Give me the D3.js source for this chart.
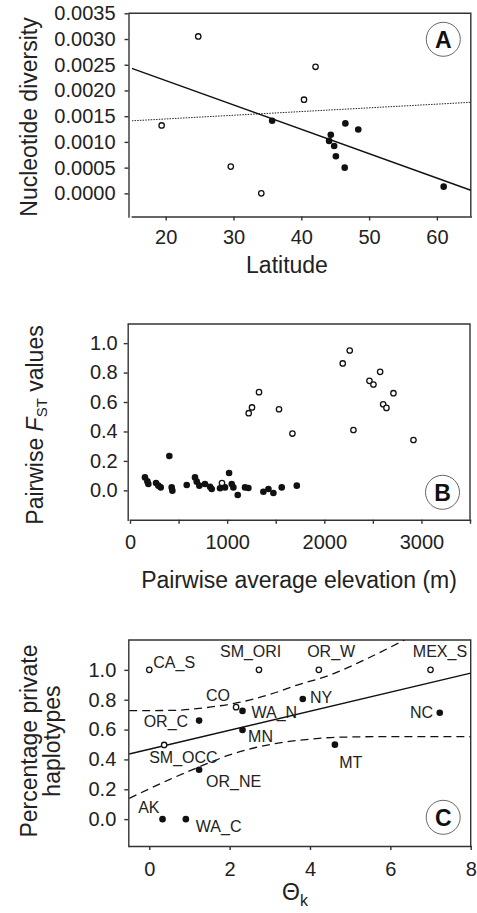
<!DOCTYPE html>
<html>
<head>
<meta charset="utf-8">
<title>diversity panels</title>
<style type="text/css">
    body { margin: 0; background: #fff; }
    svg text { font-family: "Liberation Sans", Arial, sans-serif; fill: #222; }
    .axis path, .axis line { stroke: #333; stroke-width: 1.4px; }
    .axis text { font-size: 20px; fill: #222; }
    .frame { fill: none; stroke: #333; stroke-width: 1.4px; }
    .title { font-size: 23px; }
    .open { fill: #fff; stroke: #111; stroke-width: 1.3px; }
    .filled { fill: #111; stroke: none; }
    .fit { fill: none; stroke: #111; stroke-width: 1.5px; }
    .dotted { fill: none; stroke: #222; stroke-width: 1px; stroke-dasharray: 1.5 1.2; }
    .dashed { fill: none; stroke: #111; stroke-width: 1.3px; stroke-dasharray: 8 5; }
    .badge circle { fill: none; stroke: #555; stroke-width: 0.9px; }
    .badge text { font-size: 23px; font-weight: bold; fill: #111; }
    .site { font-size: 16px; }
</style>
</head>
<body>
<svg id="fig" width="477" height="913"></svg>
<script src="https://cdn.jsdelivr.net/npm/d3@7"></script>
<script type="text/javascript">
// panel A: nucleotide diversity vs latitude
var latOpen = [19.4, 24.8, 29.6, 34.1, 40.4, 42.1];
var divOpen = [0.00132, 0.00305, 0.00052, 0.0, 0.00182, 0.00246];
var latFilled = [35.7, 44.1, 44.35, 44.85, 45.1, 46.4, 46.5, 48.4, 61.0];
var divFilled = [0.00141, 0.00102, 0.00114, 0.00092, 0.00072, 0.00050, 0.00136, 0.00124, 0.00013];
var fitALat = [15, 65];
var fitADiv = [0.00243, 0.00006];
var dotALat = [15, 65];
var dotADiv = [0.00141, 0.00177];
var latTicks = [20, 30, 40, 50, 60];
var divTicks = [0, 0.0005, 0.001, 0.0015, 0.002, 0.0025, 0.003, 0.0035];

// panel B: pairwise FST vs average elevation
var elevOpen = [947, 1222, 1256, 1328, 1534, 1672, 2190, 2262, 2300, 2465, 2506, 2575, 2606, 2640, 2712, 2918];
var fstOpen = [0.05, 0.524, 0.563, 0.667, 0.551, 0.386, 0.862, 0.95, 0.41, 0.744, 0.719, 0.805, 0.585, 0.56, 0.66, 0.342];
var elevFilled = [154, 179, 189, 268, 292, 316, 405, 429, 436, 584, 669, 687, 714, 772, 824, 841, 927, 978, 1020, 1047, 1064, 1109, 1184, 1219, 1373, 1425, 1476, 1562, 1717];
var fstFilled = [0.088, 0.061, 0.043, 0.05, 0.032, 0.02, 0.233, 0.02, -0.002, 0.036, 0.088, 0.059, 0.032, 0.043, 0.025, 0.009, 0.014, 0.02, 0.118, 0.043, 0.02, -0.032, 0.02, 0.016, -0.009, 0.009, -0.018, 0.02, 0.032];
var elevTicks = [0, 500, 1000, 1500, 2000, 2500, 3000, 3500];
var fstTicks = [0, 0.2, 0.4, 0.6, 0.8, 1.0];

// panel C: private haplotypes vs theta_k
var sites = ['CA_S', 'SM_ORI', 'OR_W', 'MEX_S', 'CO', 'WA_N', 'NY', 'NC', 'OR_C', 'MN', 'SM_OCC', 'OR_NE', 'MT', 'AK', 'WA_C'];
var theta = [0.0, 2.73, 4.22, 7.0, 2.16, 2.32, 3.82, 7.23, 1.24, 2.32, 0.37, 1.24, 4.62, 0.33, 0.91];
var privPct = [1.0, 1.0, 1.0, 1.0, 0.75, 0.725, 0.805, 0.713, 0.66, 0.597, 0.497, 0.331, 0.499, 0.0, 0.0];
var siteOpen = [true, true, true, true, true, false, false, false, false, false, true, false, false, false, false];
var fitCTheta = [-0.5, 8];
var fitCPct = [0.436, 0.978];
var upperTheta = [-0.5, 0.5, 1.5, 2.2, 3.0, 3.7, 4.5, 5.3, 6.35];
var upperPct = [0.727, 0.728, 0.75, 0.78, 0.835, 0.9, 0.965, 1.06, 1.2];
var lowerTheta = [-0.5, 0.5, 1.24, 2.0, 3.17, 4.0, 4.62, 6, 8];
var lowerPct = [0.139, 0.265, 0.35, 0.43, 0.508, 0.535, 0.548, 0.553, 0.552];
var thetaTicks = [0, 2, 4, 6, 8];
var pctTicks = [0, 0.2, 0.4, 0.6, 0.8, 1.0];

// label placement for panel C (pixel offsets from the point)
var labelPlace = {
    CA_S: [4, -2, 'start'], SM_ORI: [-39, -12.6, 'start'], OR_W: [-11.7, -12.6, 'start'],
    MEX_S: [-17.7, -12.6, 'start'], CO: [-6, -6.6, 'end'], WA_N: [9, 7, 'start'],
    NY: [7.3, 3.7, 'start'], NC: [-6.7, 5.6, 'end'], OR_C: [-11, 6, 'end'],
    MN: [5.6, 11.7, 'start'], SM_OCC: [-15, 18.3, 'start'], OR_NE: [7, 17, 'start'],
    MT: [4.3, 23.6, 'start'], AK: [-24.4, -6, 'start'], WA_C: [10, 12.4, 'start']
};

var svg = d3.select('#fig');
svg.append('rect').attr('width', 477).attr('height', 913).attr('fill', '#fff');

function zip(a, b) { return a.map(function(v, i) { return [v, b[i]]; }); }

function panel(o) {
    var g = svg.append('g');
    var x = d3.scaleLinear().domain(o.xDom).range(o.xRange);
    var y = d3.scaleLinear().domain(o.yDom).range(o.yRange);
    var left = o.leftX, bottom = o.yRange[0], top = o.yRange[1], right = o.xRange[1];

    g.append('path').attr('class', 'frame')
        .attr('d', 'M' + left + ',' + top + 'H' + right + 'V' + bottom);

    g.append('g').attr('class', 'axis')
        .attr('transform', 'translate(' + left + ',0)')
        .call(d3.axisLeft(y).tickValues(o.yTicks).tickSize(4).tickSizeOuter(0)
            .tickPadding(o.yPad).tickFormat(o.yFmt));
    g.append('g').attr('class', 'axis')
        .attr('transform', 'translate(0,' + bottom + ')')
        .call(d3.axisBottom(x).tickValues(o.xTicks).tickSize(4).tickSizeOuter(0)
            .tickPadding(o.xPad).tickFormat(o.xFmt));
    g.selectAll('.axis .domain').attr('stroke-linecap', 'square');

    var clipId = 'clip' + o.name;
    svg.append('clipPath').attr('id', clipId).append('rect')
        .attr('x', o.xRange[0]).attr('y', top)
        .attr('width', right - o.xRange[0]).attr('height', bottom - top);
    var plot = g.append('g').attr('clip-path', 'url(#' + clipId + ')');

    var badge = g.append('g').attr('class', 'badge')
        .attr('transform', 'translate(' + (right - 27.5) + ',' + (o.badgeY) + ')');
    badge.append('circle').attr('r', 17);
    badge.append('text').attr('text-anchor', 'middle').attr('dy', '0.36em').text(o.name);

    return { g: g, plot: plot, x: x, y: y };
}

function dots(p, xs, ys, cls, r) {
    p.plot.append('g').selectAll('circle')
        .data(zip(xs, ys))
        .enter()
        .append('circle')
        .attr('class', cls)
        .attr('cx', function(d) { return p.x(d[0]); })
        .attr('cy', function(d) { return p.y(d[1]); })
        .attr('r', r);
}

function line(p, xs, ys, cls, curve) {
    var gen = d3.line()
        .x(function(d) { return p.x(d[0]); })
        .y(function(d) { return p.y(d[1]); })
        .curve(curve || d3.curveLinear);
    p.plot.append('path').attr('class', cls).attr('d', gen(zip(xs, ys)));
}

// ---- A
var pa = panel({
    name: 'A', xDom: [15, 65], xRange: [131.8, 470.8], yDom: [-0.00045, 0.0035], yRange: [216.5, 13.3],
    leftX: 128.5, xTicks: latTicks, yTicks: divTicks, yPad: 9, xPad: 9,
    yFmt: d3.format('.4f'), xFmt: d3.format('d'), badgeY: 39.3
});
line(pa, dotALat, dotADiv, 'dotted');
line(pa, fitALat, fitADiv, 'fit');
dots(pa, latOpen, divOpen, 'open', 2.7);
dots(pa, latFilled, divFilled, 'filled', 3.3);
pa.g.append('text').attr('class', 'title').attr('text-anchor', 'middle')
    .attr('x', 287).attr('y', 273).text('Latitude');
pa.g.append('text').attr('class', 'title').attr('text-anchor', 'middle')
    .attr('transform', 'translate(37,117) rotate(-90)').text('Nucleotide diversity');

// ---- B
var pb = panel({
    name: 'B', xDom: [0, 3500], xRange: [130, 470], yDom: [-0.2, 1.13], yRange: [519.8, 324],
    leftX: 127.7, xTicks: elevTicks, yTicks: fstTicks, yPad: 6, xPad: 11,
    yFmt: d3.format('.1f'), xFmt: function(d) { return d % 1000 === 0 ? d : ''; }, badgeY: 492.3
});
dots(pb, elevFilled, fstFilled, 'filled', 3.3);
dots(pb, elevOpen, fstOpen, 'open', 2.7);
pb.g.append('text').attr('class', 'title').attr('text-anchor', 'middle')
    .attr('x', 299).attr('y', 588).text('Pairwise average elevation (m)');
var yb = pb.g.append('text').attr('class', 'title').attr('text-anchor', 'middle')
    .attr('transform', 'translate(43,425) rotate(-90)');
yb.append('tspan').text('Pairwise ');
yb.append('tspan').attr('font-style', 'italic').text('F');
yb.append('tspan').attr('font-size', '15px').attr('dy', '4').text('ST');
yb.append('tspan').attr('dy', '-4').text(' values');

// ---- C
var pc = panel({
    name: 'C', xDom: [-0.5, 8], xRange: [129.2, 470.7], yDom: [-0.18, 1.2], yRange: [846, 640],
    leftX: 128.3, xTicks: thetaTicks, yTicks: pctTicks, yPad: 8, xPad: 12,
    yFmt: d3.format('.1f'), xFmt: d3.format('d'), badgeY: 817.3
});
line(pc, upperTheta, upperPct, 'dashed', d3.curveMonotoneX);
line(pc, lowerTheta, lowerPct, 'dashed', d3.curveMonotoneX);
line(pc, fitCTheta, fitCPct, 'fit');
var siteData = sites.map(function(s, i) { return { s: s, t: theta[i], p: privPct[i], open: siteOpen[i] }; });
pc.g.append('g').selectAll('circle')
    .data(siteData)
    .enter()
    .append('circle')
    .attr('class', function(d) { return d.open ? 'open' : 'filled'; })
    .attr('cx', function(d) { return pc.x(d.t); })
    .attr('cy', function(d) { return pc.y(d.p); })
    .attr('r', function(d) { return d.open ? 2.7 : 3.3; });
pc.g.append('g').selectAll('text')
    .data(siteData)
    .enter()
    .append('text')
    .attr('class', 'site')
    .attr('x', function(d) { return pc.x(d.t) + labelPlace[d.s][0]; })
    .attr('y', function(d) { return pc.y(d.p) + labelPlace[d.s][1]; })
    .attr('text-anchor', function(d) { return labelPlace[d.s][2]; })
    .text(function(d) { return d.s; });
var xc = pc.g.append('text').attr('class', 'title').attr('text-anchor', 'middle')
    .attr('x', 295).attr('y', 900);
xc.append('tspan').text('\u0398');
xc.append('tspan').attr('font-size', '16px').attr('dy', '6').text('k');
var yc = pc.g.append('text').attr('class', 'title').attr('text-anchor', 'middle')
    .attr('transform', 'translate(37,741) rotate(-90)');
yc.append('tspan').attr('x', 0).attr('dy', 0).text('Percentage private');
yc.append('tspan').attr('x', 0).attr('dy', 23).text('haplotypes');
</script>
</body>
</html>
